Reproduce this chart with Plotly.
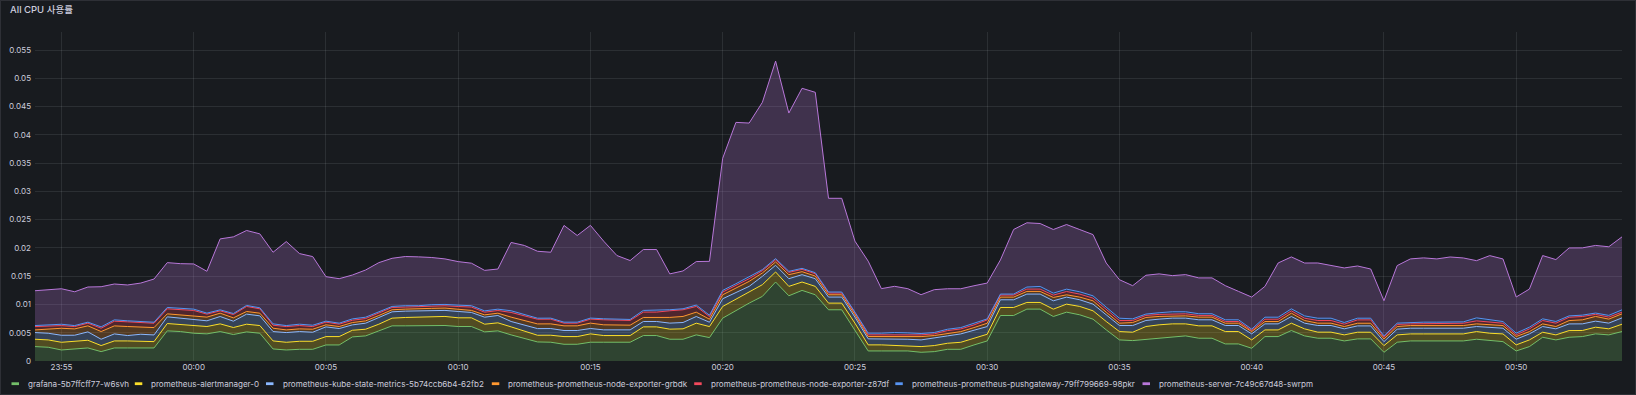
import pandas as pd
import plotly.graph_objects as go

# ---- time axis (30 s steps, 23:54 -> 00:54) ----
times = pd.date_range("2024-05-20 23:54:00", "2024-05-21 00:54:00", freq="30s")

grafana = [
    0.00255, 0.00243, 0.00195, 0.00213, 0.00231, 0.00166, 0.00231, 0.00231, 0.00231, 0.00231,
    0.00533, 0.00521, 0.00491, 0.00480, 0.00521, 0.00468, 0.00515, 0.00491, 0.00213, 0.00195,
    0.00207, 0.00207, 0.00284, 0.00284, 0.00426, 0.00444, 0.00533, 0.00622, 0.00622, 0.00628,
    0.00628, 0.00628, 0.00610, 0.00610, 0.00515, 0.00533, 0.00462, 0.00397, 0.00337, 0.00332,
    0.00296, 0.00296, 0.00332, 0.00332, 0.00332, 0.00332, 0.00450, 0.00450, 0.00385, 0.00385,
    0.00462, 0.00414, 0.00758, 0.00894, 0.01024, 0.01143, 0.01397, 0.01154, 0.01249, 0.01172,
    0.00906, 0.00906, 0.00551, 0.00178, 0.00178, 0.00178, 0.00178, 0.00154, 0.00166, 0.00207,
    0.00207, 0.00284, 0.00355, 0.00805, 0.00805, 0.00918, 0.00918, 0.00787, 0.00864, 0.00817,
    0.00740, 0.00551, 0.00373, 0.00361, 0.00385, 0.00403, 0.00420, 0.00444, 0.00403, 0.00403,
    0.00302, 0.00302, 0.00225, 0.00432, 0.00432, 0.00539, 0.00444, 0.00403, 0.00403, 0.00355,
    0.00391, 0.00391, 0.00154, 0.00332, 0.00355, 0.00355, 0.00355, 0.00355, 0.00355, 0.00385,
    0.00367, 0.00343, 0.00178, 0.00255, 0.00420, 0.00373, 0.00420, 0.00432, 0.00480, 0.00462,
    0.00521,
]

alertmanager = [
    0.00130, 0.00130, 0.00136, 0.00136, 0.00136, 0.00107, 0.00124, 0.00124, 0.00124, 0.00112,
    0.00130, 0.00124, 0.00130, 0.00130, 0.00136, 0.00124, 0.00136, 0.00136, 0.00142, 0.00136,
    0.00142, 0.00142, 0.00148, 0.00148, 0.00118, 0.00118, 0.00118, 0.00136, 0.00148, 0.00148,
    0.00160, 0.00160, 0.00154, 0.00154, 0.00136, 0.00142, 0.00142, 0.00136, 0.00118, 0.00124,
    0.00136, 0.00136, 0.00148, 0.00118, 0.00118, 0.00118, 0.00154, 0.00154, 0.00178, 0.00184,
    0.00207, 0.00195, 0.00207, 0.00201, 0.00195, 0.00207, 0.00178, 0.00166, 0.00148, 0.00148,
    0.00118, 0.00118, 0.00118, 0.00107, 0.00107, 0.00095, 0.00095, 0.00101, 0.00107, 0.00107,
    0.00124, 0.00118, 0.00118, 0.00142, 0.00142, 0.00118, 0.00118, 0.00130, 0.00142, 0.00148,
    0.00148, 0.00148, 0.00148, 0.00148, 0.00225, 0.00237, 0.00237, 0.00213, 0.00219, 0.00219,
    0.00219, 0.00219, 0.00148, 0.00118, 0.00118, 0.00130, 0.00124, 0.00107, 0.00107, 0.00107,
    0.00118, 0.00118, 0.00118, 0.00130, 0.00124, 0.00124, 0.00124, 0.00124, 0.00124, 0.00136,
    0.00124, 0.00136, 0.00107, 0.00118, 0.00089, 0.00089, 0.00118, 0.00107, 0.00118, 0.00107,
    0.00130,
]

kube_state = [
    0.00118, 0.00118, 0.00124, 0.00107, 0.00148, 0.00112, 0.00124, 0.00095, 0.00118, 0.00118,
    0.00118, 0.00112, 0.00107, 0.00101, 0.00130, 0.00112, 0.00178, 0.00172, 0.00166, 0.00172,
    0.00172, 0.00160, 0.00172, 0.00142, 0.00095, 0.00107, 0.00118, 0.00112, 0.00112, 0.00107,
    0.00107, 0.00107, 0.00112, 0.00095, 0.00124, 0.00130, 0.00095, 0.00107, 0.00118, 0.00118,
    0.00107, 0.00107, 0.00095, 0.00101, 0.00101, 0.00101, 0.00095, 0.00095, 0.00107, 0.00112,
    0.00118, 0.00077, 0.00136, 0.00118, 0.00101, 0.00148, 0.00118, 0.00136, 0.00130, 0.00136,
    0.00107, 0.00107, 0.00107, 0.00107, 0.00107, 0.00112, 0.00112, 0.00118, 0.00130, 0.00130,
    0.00148, 0.00148, 0.00136, 0.00136, 0.00136, 0.00148, 0.00148, 0.00148, 0.00124, 0.00118,
    0.00118, 0.00118, 0.00107, 0.00118, 0.00107, 0.00101, 0.00101, 0.00101, 0.00107, 0.00107,
    0.00107, 0.00107, 0.00107, 0.00107, 0.00107, 0.00118, 0.00101, 0.00118, 0.00118, 0.00107,
    0.00112, 0.00112, 0.00071, 0.00101, 0.00101, 0.00101, 0.00101, 0.00101, 0.00101, 0.00089,
    0.00107, 0.00101, 0.00101, 0.00107, 0.00101, 0.00107, 0.00118, 0.00118, 0.00107, 0.00101,
    0.00112,
]

node_exporter_grbdk = [
    0.00047, 0.00071, 0.00124, 0.00112, 0.00107, 0.00136, 0.00142, 0.00160, 0.00130, 0.00130,
    0.00053, 0.00059, 0.00071, 0.00065, 0.00059, 0.00059, 0.00047, 0.00047, 0.00059, 0.00047,
    0.00047, 0.00053, 0.00036, 0.00036, 0.00041, 0.00041, 0.00036, 0.00036, 0.00036, 0.00036,
    0.00036, 0.00041, 0.00041, 0.00036, 0.00041, 0.00041, 0.00077, 0.00077, 0.00083, 0.00083,
    0.00083, 0.00083, 0.00095, 0.00089, 0.00089, 0.00083, 0.00071, 0.00071, 0.00101, 0.00107,
    0.00077, 0.00053, 0.00071, 0.00077, 0.00089, 0.00059, 0.00059, 0.00071, 0.00053, 0.00047,
    0.00041, 0.00041, 0.00041, 0.00041, 0.00041, 0.00059, 0.00059, 0.00059, 0.00047, 0.00047,
    0.00041, 0.00041, 0.00059, 0.00047, 0.00047, 0.00047, 0.00047, 0.00059, 0.00041, 0.00047,
    0.00059, 0.00047, 0.00041, 0.00053, 0.00053, 0.00047, 0.00041, 0.00041, 0.00047, 0.00047,
    0.00041, 0.00041, 0.00041, 0.00041, 0.00041, 0.00059, 0.00047, 0.00041, 0.00041, 0.00041,
    0.00047, 0.00047, 0.00047, 0.00047, 0.00047, 0.00047, 0.00047, 0.00047, 0.00047, 0.00047,
    0.00041, 0.00047, 0.00047, 0.00041, 0.00047, 0.00041, 0.00059, 0.00071, 0.00083, 0.00071,
    0.00071,
]

node_exporter_z87df = [
    0.00059, 0.00059, 0.00047, 0.00041, 0.00047, 0.00059, 0.00083, 0.00083, 0.00083, 0.00077,
    0.00089, 0.00089, 0.00095, 0.00053, 0.00041, 0.00059, 0.00089, 0.00077, 0.00053, 0.00059,
    0.00059, 0.00047, 0.00047, 0.00041, 0.00041, 0.00041, 0.00041, 0.00041, 0.00036, 0.00041,
    0.00041, 0.00041, 0.00047, 0.00059, 0.00047, 0.00047, 0.00083, 0.00083, 0.00083, 0.00083,
    0.00047, 0.00047, 0.00071, 0.00089, 0.00089, 0.00083, 0.00095, 0.00095, 0.00118, 0.00118,
    0.00101, 0.00047, 0.00047, 0.00047, 0.00047, 0.00041, 0.00036, 0.00041, 0.00041, 0.00041,
    0.00030, 0.00030, 0.00030, 0.00030, 0.00030, 0.00030, 0.00030, 0.00030, 0.00030, 0.00047,
    0.00047, 0.00047, 0.00059, 0.00036, 0.00036, 0.00041, 0.00041, 0.00041, 0.00059, 0.00053,
    0.00047, 0.00041, 0.00047, 0.00036, 0.00036, 0.00036, 0.00036, 0.00036, 0.00030, 0.00030,
    0.00030, 0.00030, 0.00018, 0.00041, 0.00041, 0.00041, 0.00041, 0.00047, 0.00047, 0.00041,
    0.00059, 0.00059, 0.00030, 0.00036, 0.00030, 0.00036, 0.00036, 0.00041, 0.00041, 0.00053,
    0.00047, 0.00041, 0.00030, 0.00047, 0.00059, 0.00059, 0.00059, 0.00059, 0.00036, 0.00036,
    0.00030,
]

pushgateway = [
    0.00018, 0.00018, 0.00024, 0.00018, 0.00018, 0.00024, 0.00024, 0.00018, 0.00018, 0.00018,
    0.00024, 0.00024, 0.00024, 0.00018, 0.00018, 0.00018, 0.00018, 0.00018, 0.00024, 0.00018,
    0.00024, 0.00024, 0.00018, 0.00018, 0.00024, 0.00024, 0.00018, 0.00018, 0.00024, 0.00018,
    0.00024, 0.00024, 0.00024, 0.00024, 0.00024, 0.00024, 0.00030, 0.00024, 0.00018, 0.00018,
    0.00018, 0.00018, 0.00018, 0.00018, 0.00018, 0.00018, 0.00030, 0.00030, 0.00018, 0.00018,
    0.00024, 0.00024, 0.00030, 0.00030, 0.00030, 0.00018, 0.00024, 0.00018, 0.00018, 0.00018,
    0.00018, 0.00018, 0.00018, 0.00030, 0.00030, 0.00030, 0.00024, 0.00024, 0.00024, 0.00024,
    0.00024, 0.00024, 0.00018, 0.00018, 0.00018, 0.00036, 0.00047, 0.00036, 0.00041, 0.00041,
    0.00041, 0.00047, 0.00041, 0.00030, 0.00024, 0.00030, 0.00036, 0.00036, 0.00030, 0.00030,
    0.00030, 0.00030, 0.00024, 0.00036, 0.00036, 0.00036, 0.00041, 0.00041, 0.00041, 0.00030,
    0.00030, 0.00030, 0.00024, 0.00024, 0.00024, 0.00024, 0.00024, 0.00024, 0.00024, 0.00053,
    0.00047, 0.00030, 0.00030, 0.00030, 0.00030, 0.00030, 0.00024, 0.00024, 0.00024, 0.00030,
    0.00041,
]

server = [
    0.00616, 0.00622, 0.00628, 0.00598, 0.00622, 0.00710, 0.00634, 0.00634, 0.00675, 0.00764,
    0.00793, 0.00793, 0.00799, 0.00740, 0.01255, 0.01356, 0.01326, 0.01308, 0.01267, 0.01486,
    0.01249, 0.01214, 0.00787, 0.00787, 0.00776, 0.00835, 0.00876, 0.00852, 0.00870, 0.00864,
    0.00835, 0.00805, 0.00770, 0.00752, 0.00716, 0.00710, 0.01208, 0.01220, 0.01184, 0.01166,
    0.01711, 0.01533, 0.01640, 0.01373, 0.01119, 0.01042, 0.01077, 0.01077, 0.00634, 0.00669,
    0.00770, 0.00953, 0.02338, 0.02854, 0.02723, 0.02960, 0.03493, 0.02800, 0.03185, 0.03191,
    0.01658, 0.01658, 0.01255, 0.01273, 0.00787, 0.00817, 0.00781, 0.00687, 0.00758, 0.00716,
    0.00687, 0.00669, 0.00634, 0.00604, 0.01143, 0.01137, 0.01113, 0.01125, 0.01143, 0.01101,
    0.01083, 0.00781, 0.00681, 0.00586, 0.00687, 0.00687, 0.00639, 0.00657, 0.00634, 0.00634,
    0.00604, 0.00503, 0.00568, 0.00545, 0.00959, 0.00918, 0.00935, 0.00977, 0.00929, 0.00965,
    0.00924, 0.00870, 0.00622, 0.01018, 0.01125, 0.01137, 0.01119, 0.01148, 0.01131, 0.01012,
    0.01131, 0.01107, 0.00639, 0.00675, 0.01119, 0.01095, 0.01202, 0.01190, 0.01196, 0.01214,
    0.01291,
]

series_names = [
    "grafana-5b7ffcff77-w6svh",
    "prometheus-alertmanager-0",
    "prometheus-kube-state-metrics-5b74ccb6b4-62fb2",
    "prometheus-prometheus-node-exporter-grbdk",
    "prometheus-prometheus-node-exporter-z87df",
    "prometheus-prometheus-pushgateway-79ff799669-98pkr",
    "prometheus-server-7c49c67d48-swrpm",
]
series_values = [grafana, alertmanager, kube_state, node_exporter_grbdk,
                 node_exporter_z87df, pushgateway, server]
series_colors = ["#73BF69", "#FADE2A", "#8AB8FF", "#FF9830", "#F2495C", "#5794F2", "#B877D9"]

y_ticks = [0, 0.005, 0.01, 0.015, 0.02, 0.025, 0.03, 0.035, 0.04, 0.045, 0.05, 0.055]


def rgba(hex_color, a):
    h = hex_color.lstrip("#")
    r, g, b = int(h[0:2], 16), int(h[2:4], 16), int(h[4:6], 16)
    return f"rgba({r},{g},{b},{a})"


W, H = 1636, 395
ML, MR, MT, MB = 35, 14, 32, 34
PW, PH = W - ML - MR, H - MT - MB


def px2x(px):
    return (px - ML) / PW


def px2y(py):
    return (H - MB - py) / PH


fig = go.Figure()
for name, vals, col in zip(series_names, series_values, series_colors):
    fig.add_trace(go.Scatter(
        x=times, y=vals, name=name, mode="lines", stackgroup="cpu",
        line=dict(color=col, width=1), fillcolor=rgba(col, 0.25),
        showlegend=False, hoverinfo="x+y+name",
    ))

TEXT = "#ccccdc"
FONT = "Inter, 'Noto Sans CJK KR', sans-serif"

annotations = [dict(
    text="All CPU 사용률", xref="paper", yref="paper", x=px2x(8), y=px2y(9.5),
    xanchor="left", yanchor="middle", showarrow=False,
    font=dict(family=FONT, size=9.5, color=TEXT, weight=500),
)]
shapes = [dict(
    type="rect", xref="paper", yref="paper",
    x0=px2x(0.5), x1=px2x(W - 0.5), y0=px2y(H - 0.5), y1=px2y(0.5),
    line=dict(color="rgba(204,204,220,0.12)", width=1), fillcolor="rgba(0,0,0,0)", layer="below",
)]

legend_text_x = [26, 149.3, 280.5, 506.3, 708.7, 909.8, 1157]
legend_y = 383.7
for name, col, tx in zip(series_names, series_colors, legend_text_x):
    annotations.append(dict(
        text=name, xref="paper", yref="paper", x=px2x(tx), y=px2y(legend_y),
        xanchor="left", yanchor="middle", showarrow=False,
        font=dict(family=FONT, size=8.05, color=TEXT),
    ))
    shapes.append(dict(
        type="rect", xref="paper", yref="paper",
        x0=px2x(tx - 14.5), x1=px2x(tx - 7), y0=px2y(legend_y + 1.4), y1=px2y(legend_y - 1.4),
        line=dict(width=0), fillcolor=col,
    ))

fig.update_layout(
    width=W, height=H,
    margin=dict(l=ML, r=MR, t=MT, b=MB, autoexpand=False),
    paper_bgcolor="#181b1f", plot_bgcolor="#181b1f",
    font=dict(family=FONT, size=8, color=TEXT),
    showlegend=False,
    annotations=annotations,
    shapes=shapes,
    xaxis=dict(
        type="date", range=[times[0], times[-1]],
        tick0="2024-05-20 23:55:00", dtick=300000, tickformat="%H:%M",
        showgrid=True, gridcolor="rgba(240,250,255,0.09)", gridwidth=1,
        zeroline=False, showline=False, ticks="",
        tickfont=dict(family=FONT, size=8, color=TEXT),
    ),
    yaxis=dict(
        range=[0, 0.0582], tickvals=y_ticks,
        ticktext=[("%g" % v) for v in y_ticks],
        showgrid=True, gridcolor="rgba(240,250,255,0.09)", gridwidth=1,
        zeroline=False, showline=False, ticks="", ticklabelstandoff=3,
        tickfont=dict(family=FONT, size=8, color=TEXT),
    ),
)

fig.write_html(
    "out.html",
    config={"displayModeBar": False},
    post_script="document.body.style.margin='0';document.body.style.background='#181b1f';"
                "document.documentElement.style.overflow='hidden';",
)
